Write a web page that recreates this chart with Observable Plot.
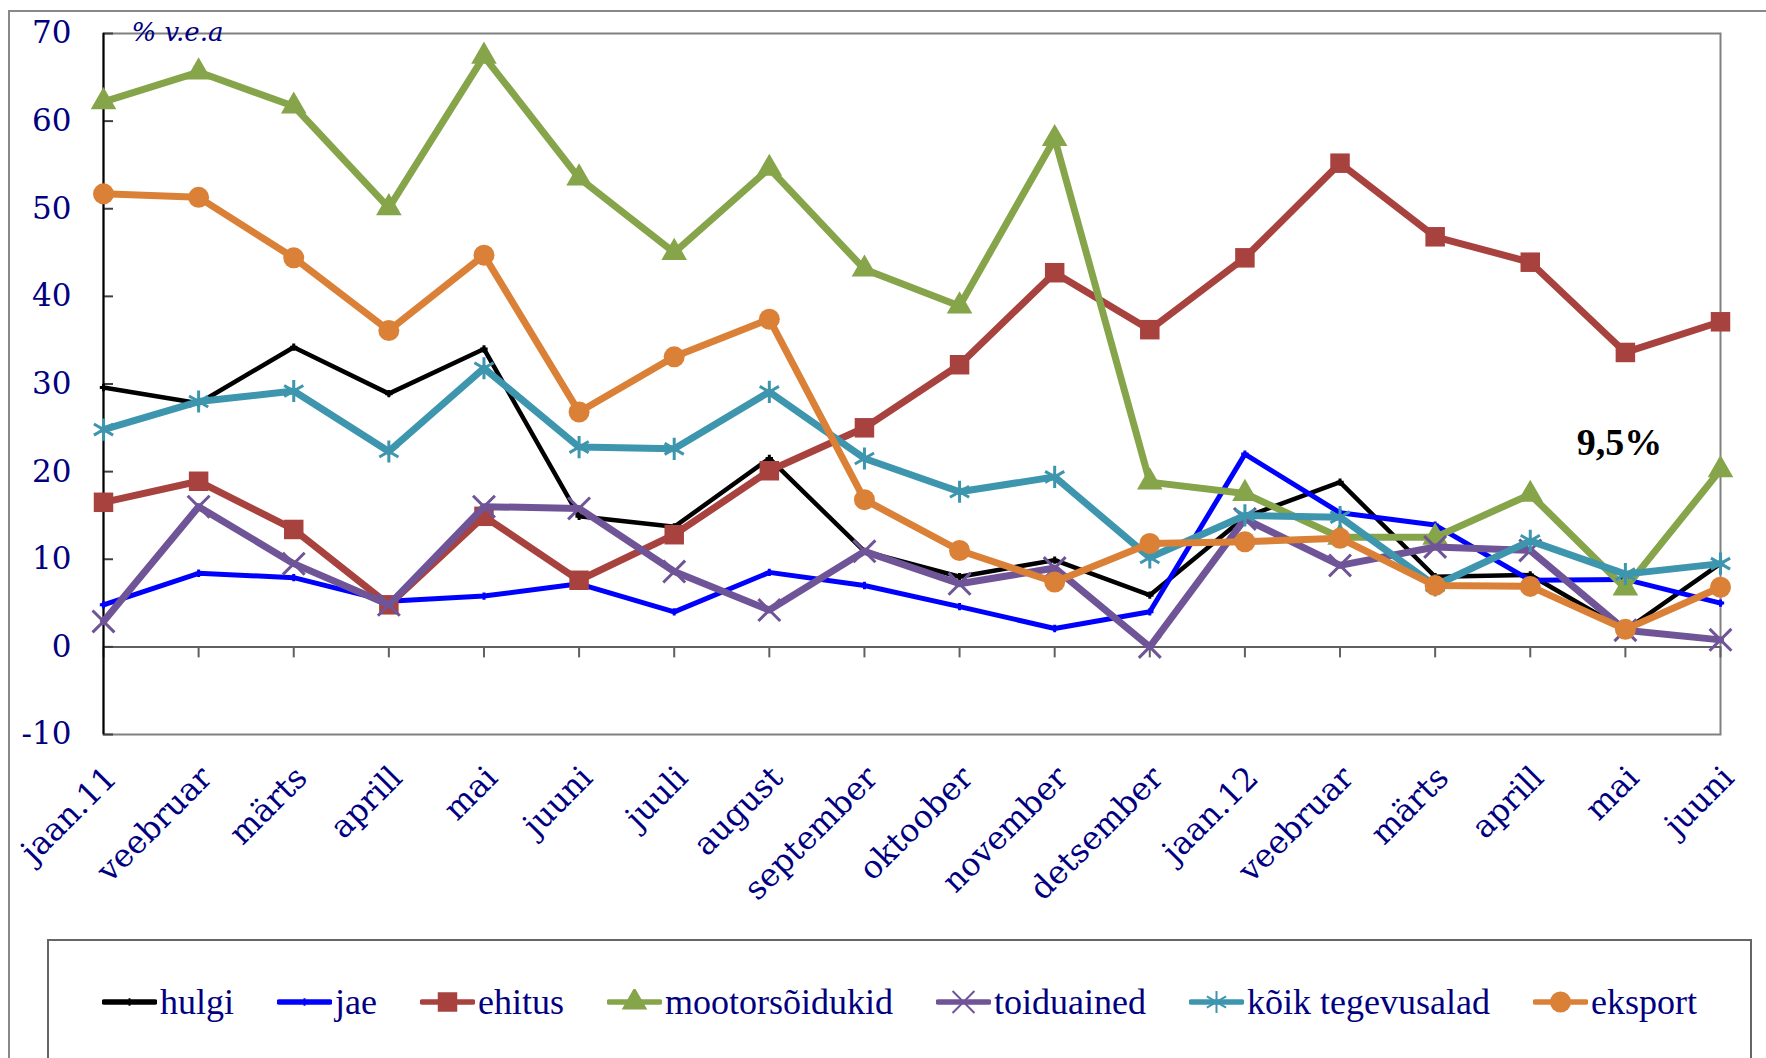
<!DOCTYPE html>
<html><head><meta charset="utf-8">
<script src="https://cdn.jsdelivr.net/npm/d3@7"></script>
<script src="https://cdn.jsdelivr.net/npm/@observablehq/plot@0.6"></script>
<style>
html,body{margin:0;padding:0;background:#fff;}
#wrap{position:relative;width:1766px;height:1058px;overflow:hidden;background:#fff;}
#outer{position:absolute;left:8px;top:10px;width:1800px;height:1100px;border:2px solid #888;box-sizing:border-box;}
#chart{position:absolute;left:0;top:0;}
#legend{position:absolute;left:47px;top:939px;width:1705px;height:200px;border:2px solid #666;box-sizing:border-box;display:flex;justify-content:center;align-items:flex-start;padding-top:40px;gap:43px;font-family:"Liberation Serif","Times New Roman",serif;font-size:36px;color:#000080;background:#fff;}
.item{display:flex;align-items:center;white-space:nowrap;}
.item svg{margin-right:3px;}
</style>
</head><body>
<div id="wrap"><div id="outer"></div><div id="chart"></div><div id="legend"></div></div>
<script>
// ---- data ----
const months = ["jaan.11","veebruar","märts","aprill","mai","juuni","juuli","august","september","oktoober","november","detsember","jaan.12","veebruar","märts","aprill","mai","juuni"];
const hulgi = [29.6, 27.8, 34.2, 28.9, 34.0, 14.9, 13.7, 21.5, 10.9, 8.0, 9.9, 5.9, 14.8, 18.8, 8.0, 8.2, 1.9, 9.5];
const jae = [4.8, 8.4, 7.9, 5.2, 5.8, 7.2, 4.0, 8.5, 7.0, 4.6, 2.1, 4.0, 22.0, 15.3, 13.9, 7.6, 7.7, 5.0];
const ehitus = [16.5, 18.9, 13.4, 4.8, 14.9, 7.6, 12.8, 20.1, 25.0, 32.2, 42.7, 36.2, 44.4, 55.2, 46.8, 43.9, 33.6, 37.1];
const mootorsoidukid = [62.2, 65.6, 61.7, 50.1, 67.4, 53.5, 45.0, 54.6, 43.1, 38.9, 58.0, 18.8, 17.5, 12.5, 12.5, 17.4, 6.7, 20.2];
const toiduained = [2.9, 16.0, 9.5, 4.8, 16.0, 15.8, 8.6, 4.2, 10.9, 7.2, 9.0, 0.0, 14.6, 9.3, 11.4, 11.0, 1.9, 0.8];
const koikTegevusalad = [24.8, 28.0, 29.2, 22.3, 31.8, 22.8, 22.6, 29.1, 21.5, 17.7, 19.4, 10.2, 15.0, 14.8, 7.0, 12.1, 8.3, 9.5];
const eksport = [51.7, 51.3, 44.4, 36.1, 44.7, 26.8, 33.1, 37.4, 16.8, 11.0, 7.4, 11.8, 12.0, 12.4, 7.0, 6.9, 2.0, 6.8];
const seriesNames = ["hulgi","jae","ehitus","mootorsõidukid","toiduained","kõik tegevusalad","eksport"];
const seriesValues = [hulgi, jae, ehitus, mootorsoidukid, toiduained, koikTegevusalad, eksport];
const yTicks = [-10, 0, 10, 20, 30, 40, 50, 60, 70];
const unitLabel = "% v.e.a";
const annotations = [{index: 16, value: 23.3, label: "9,5%"}];

// ---- styles ----
const styles = [
  {color: "#000000", width: 4.5, symbol: "plus", r: 2.5, filled: false},
  {color: "#0000FF", width: 5, symbol: "plus", r: 2.5, filled: false},
  {color: "#A8423F", width: 7, symbol: "square", r: 11, filled: true},
  {color: "#86A44A", width: 7, symbol: "triangle", r: 9.5, filled: true},
  {color: "#6F5597", width: 7, symbol: "times", r: 10, filled: false},
  {color: "#3D96AE", width: 7, symbol: "asterisk", r: 10.5, filled: false},
  {color: "#DA8137", width: 7, symbol: "circle", r: 10.5, filled: true}
];
const navy = "#000080";

const idx = d3.range(months.length);
const marks = [
  Plot.frame({stroke: "#808080", strokeWidth: 2}),
  Plot.ruleY([0], {stroke: "#606060", strokeWidth: 2}),
  Plot.ruleX(idx, {x: i => i, y1: 0, y2: 0, insetBottom: -11, stroke: "#606060", strokeWidth: 2}),
  Plot.ruleY(yTicks, {y: d => d, x1: () => 0, x2: () => 0, insetRight: -10, stroke: "#404040", strokeWidth: 2}),
  Plot.ruleX([0], {x: d => d, stroke: "#000", strokeWidth: 2}),
  Plot.axisY({ticks: yTicks, tickFormat: d => String(d), tickSize: 0, tickPadding: 32, fontSize: 31, label: null, fill: navy}),
  Plot.axisX({ticks: idx, tickFormat: i => months[i], tickSize: 0, tickRotate: -45, tickPadding: 38, dx: 8, fontSize: 32, label: null, fill: navy}),
  Plot.text([unitLabel], {frameAnchor: "top-left", dx: 28, dy: -1, text: d => d, textAnchor: "start", lineAnchor: "middle", fontStyle: "italic", fontSize: 26, fill: navy})
];
seriesValues.forEach((vals, s) => {
  const st = styles[s];
  marks.push(Plot.line(idx, {x: i => i, y: i => vals[i], stroke: st.color, strokeWidth: st.width, strokeLinejoin: "round"}));
  marks.push(Plot.dot(idx, st.filled
    ? {x: i => i, y: i => vals[i], symbol: st.symbol, r: st.r, fill: st.color, stroke: "none"}
    : {x: i => i, y: i => vals[i], symbol: st.symbol, r: st.r, fill: "none", stroke: st.color, strokeWidth: 3}));
});
marks.push(Plot.text(annotations, {x: "index", y: "value", text: "label", fontWeight: "bold", fontFamily: "Liberation Serif", fontSize: 38, fill: "#000", dx: -6}));

const chart = Plot.plot({
  width: 1766, height: 935,
  marginLeft: 103, marginRight: 46, marginTop: 33, marginBottom: 201,
  x: {type: "linear", domain: [0, months.length - 1]},
  y: {domain: [-10, 70]},
  style: {fontFamily: "DejaVu Serif", color: navy, background: "transparent", overflow: "visible"},
  marks
});
document.getElementById("chart").appendChild(chart);

// ---- legend ----
const legend = d3.select("#legend");
seriesNames.forEach((name, s) => {
  const st = styles[s];
  const item = legend.append("div").attr("class", "item");
  const svg = item.append("svg").attr("width", 55).attr("height", 26);
  svg.append("line").attr("x1", 2).attr("x2", 53).attr("y1", 13).attr("y2", 13)
    .attr("stroke", st.color).attr("stroke-width", 5.5).attr("stroke-linecap", "round");
  const symMap = {plus: d3.symbolPlus, square: d3.symbolSquare, triangle: d3.symbolTriangle, times: d3.symbolTimes, asterisk: d3.symbolAsterisk, circle: d3.symbolCircle};
  const size = Math.PI * st.r * st.r;
  const p = svg.append("path").attr("transform", "translate(27.5,13)").attr("d", d3.symbol(symMap[st.symbol], size)());
  if (st.filled) p.attr("fill", st.color);
  else p.attr("fill", "none").attr("stroke", st.color).attr("stroke-width", 2);
  item.append("span").text(name);
});
</script>
</body></html>
